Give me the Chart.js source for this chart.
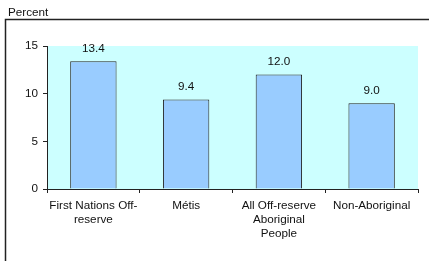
<!DOCTYPE html>
<html>
<head>
<meta charset="utf-8">
<script src="https://cdn.jsdelivr.net/npm/chart.js@4"></script>
<style>
  html, body { margin: 0; padding: 0; background: #fff; }
  #wrap { width: 429px; height: 261px; }
</style>
</head>
<body>
<div id="wrap"><canvas id="myChart" width="429" height="261"></canvas></div>
<script>
// chart data
const categories = [
    ['First Nations Off-', 'reserve'],
    ['Métis'],
    ['All Off-reserve', 'Aboriginal', 'People'],
    ['Non-Aboriginal']
];
const percentValues = [13.4, 9.4, 12.0, 9.0];
const yTicks = [0, 5, 10, 15];
const yLabel = 'Percent';

const FONT = '"Liberation Sans", Arial, sans-serif';
const FSIZE = 11.7;

// box round the whole chart, the unit label and the cyan plot area
const backdrop = {
    id: 'backdrop',
    beforeDraw(chart) {
        const c = chart.ctx;
        const a = chart.chartArea;
        c.save();
        c.fillStyle = '#fff';
        c.fillRect(0, 0, chart.width, chart.height);
        c.strokeStyle = '#222';
        c.lineWidth = 1.5;
        c.strokeRect(5.5, 19.5, chart.width + 10, chart.height + 10);
        c.fillStyle = '#111';
        c.font = FSIZE + 'px ' + FONT;
        c.textBaseline = 'alphabetic';
        c.fillText(yLabel, 8, 16);
        c.fillStyle = '#ccffff';
        c.fillRect(a.left, a.top, a.right - a.left, a.bottom - a.top);
        c.restore();
    }
};

// value printed above each bar
const barLabels = {
    id: 'barLabels',
    afterDatasetsDraw(chart) {
        const c = chart.ctx;
        const meta = chart.getDatasetMeta(0);
        c.save();
        c.fillStyle = '#111';
        c.font = FSIZE + 'px ' + FONT;
        c.textAlign = 'center';
        c.textBaseline = 'bottom';
        meta.data.forEach((bar, i) => {
            c.fillText(percentValues[i].toFixed(1), bar.x, bar.y - 7);
        });
        c.restore();
    }
};

const ctx = document.getElementById('myChart').getContext('2d');

const config = {
    type: 'bar',
    data: {
        labels: categories,
        datasets: [{
            data: percentValues,
            backgroundColor: '#99ccff',
            borderColor: '#222',
            borderWidth: 1,
            categoryPercentage: 1,
            barPercentage: 0.5
        }]
    },
    options: {
        responsive: false,
        animation: false,
        layout: { padding: { left: 0, top: 46, right: 11, bottom: 0 } },
        plugins: {
            legend: { display: false },
            tooltip: { enabled: false }
        },
        scales: {
            x: {
                afterFit(scale) { scale.height = 72; },
                grid: {
                    offset: true,
                    drawOnChartArea: false,
                    tickLength: 4,
                    color: '#222'
                },
                border: { color: '#222', width: 1 },
                ticks: {
                    color: '#111',
                    font: { family: FONT, size: FSIZE },
                    maxRotation: 0,
                    autoSkip: false,
                    padding: 6
                }
            },
            y: {
                min: 0,
                max: 15,
                afterFit(scale) { scale.width = 47; },
                afterBuildTicks(scale) {
                    scale.ticks = yTicks.map(v => ({ value: v }));
                },
                grid: {
                    drawOnChartArea: false,
                    tickLength: 4,
                    color: '#222'
                },
                border: { color: '#222', width: 1 },
                ticks: {
                    color: '#111',
                    font: { family: FONT, size: FSIZE },
                    padding: 5
                }
            }
        }
    },
    plugins: [backdrop, barLabels]
};

const myChart = new Chart(ctx, config);
</script>
</body>
</html>
